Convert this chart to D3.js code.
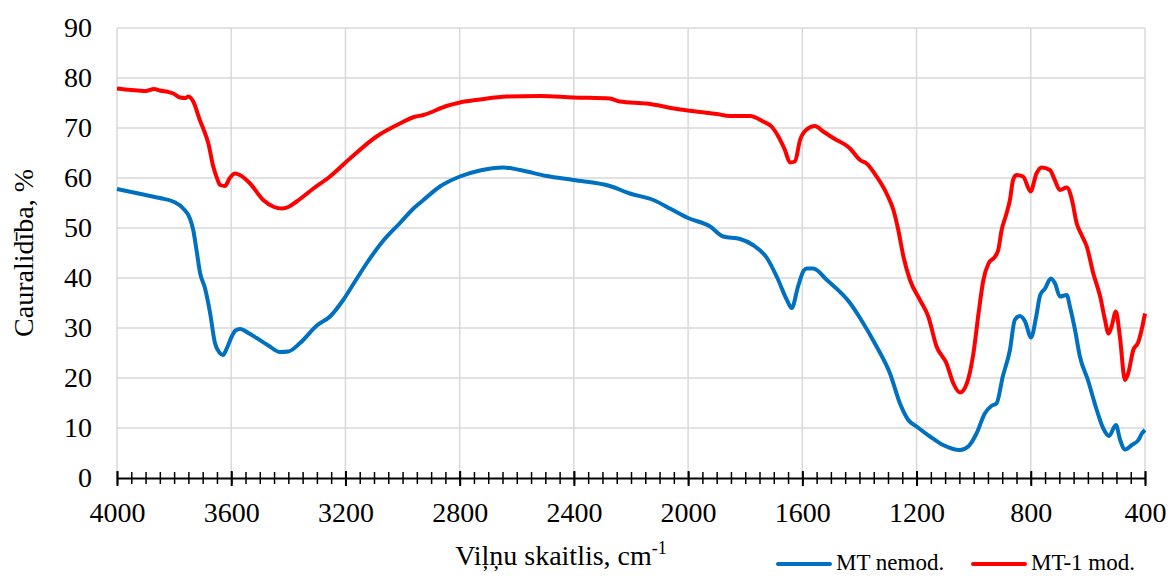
<!DOCTYPE html>
<html>
<head>
<meta charset="utf-8">
<script src="https://cdn.jsdelivr.net/npm/d3@7"></script>
<style>
  body { margin: 0; background: #fff; }
  svg text { font-family: "Liberation Serif", "Times New Roman", serif; fill: #000; }
</style>
</head>
<body>
<svg id="chart" width="1170" height="576"></svg>
<script>
// MT nemod. (blue)
const blueWave = [4000, 3950, 3900, 3850, 3800, 3770, 3744, 3733, 3720, 3709, 3692, 3674, 3657, 3640, 3629, 3615, 3599, 3585, 3569, 3540, 3511, 3470, 3429, 3400, 3359, 3300, 3254, 3208, 3170, 3125, 3070, 3009, 2960, 2927, 2869, 2799, 2729, 2647, 2589, 2495, 2402, 2274, 2204, 2122, 2060, 2000, 1923, 1877, 1818, 1773, 1724, 1689, 1654, 1637, 1615, 1595, 1584, 1562, 1514, 1433, 1398, 1340, 1293, 1258, 1229, 1200, 1153, 1107, 1048, 1019, 990, 961, 938, 920, 898, 873, 856, 838, 820, 799, 781, 767, 750, 730, 715, 698, 674, 663, 645, 628, 600, 569, 546, 526, 502, 487, 470, 446, 423, 411, 400];
const blueT = [57.8, 57.2, 56.6, 56.0, 55.2, 54.0, 51.8, 49.6, 45, 41, 38, 33, 27, 25, 24.6, 26, 28.2, 29.5, 29.8, 29, 28, 26.5, 25.2, 25.3, 27, 30.5, 32.3, 35.6, 39, 43, 47.3, 51, 54, 55.6, 58.3, 60.3, 61.5, 62.1, 61.6, 60.4, 59.6, 58.4, 56.9, 55.6, 53.8, 52, 50.3, 48.3, 47.8, 46.6, 44, 40.2, 35.6, 34, 38.3, 41.5, 41.9, 41.9, 39.6, 35, 32, 26.3, 20.9, 14.9, 11.6, 10.3, 8.3, 6.6, 5.6, 6.3, 8.9, 12.9, 14.4, 14.9, 20.3, 25.6, 31.6, 32.4, 31.3, 28.1, 32.3, 36.6, 37.9, 39.9, 38.9, 36.3, 36.6, 34.3, 29.6, 24.3, 19.6, 13.6, 9.9, 8.4, 10.6, 7.6, 5.7, 6.6, 7.6, 8.9, 9.6];

// MT-1 mod. (red)
const redWave = [4000, 3950, 3900, 3870, 3861, 3850, 3820, 3803, 3779, 3760, 3750, 3733, 3710, 3698, 3680, 3663, 3650, 3639, 3622, 3605, 3587, 3570, 3534, 3488, 3450, 3423, 3400, 3371, 3312, 3254, 3184, 3091, 3009, 2960, 2927, 2846, 2799, 2729, 2635, 2519, 2402, 2274, 2239, 2145, 2028, 1958, 1900, 1853, 1783, 1737, 1708, 1684, 1661, 1643, 1626, 1608, 1585, 1556, 1527, 1492, 1433, 1398, 1375, 1340, 1305, 1281, 1264, 1246, 1223, 1188, 1159, 1130, 1095, 1071, 1048, 1024, 1001, 983, 966, 948, 925, 914, 902, 885, 873, 862, 850, 827, 801, 780, 762, 733, 716, 698, 674, 657, 639, 622, 604, 581, 557, 540, 528, 517, 502, 488, 470, 459, 441, 424, 412, 400];
const redT = [77.9, 77.6, 77.4, 77.8, 77.7, 77.5, 77.2, 76.9, 76.1, 76.0, 76.3, 75.3, 71.6, 69.9, 66.9, 62.3, 60, 58.6, 58.4, 60, 60.9, 60.6, 58.9, 55.6, 54.2, 53.9, 54.2, 55.3, 57.9, 60.3, 63.9, 68.3, 70.9, 72.2, 72.6, 74.4, 75.1, 75.7, 76.3, 76.4, 76.1, 75.9, 75.3, 74.9, 73.7, 73.2, 72.8, 72.4, 72.4, 71.3, 70.3, 68.3, 65.6, 63.1, 63.3, 67.6, 69.7, 70.4, 69.3, 68, 65.9, 63.6, 62.9, 60.3, 56.9, 53.6, 49.6, 44.3, 39.6, 35.6, 32.3, 26.3, 22.9, 18.9, 17.1, 18.9, 24.9, 32.9, 39.6, 42.9, 44.3, 45.6, 49.6, 52.9, 55.6, 59.6, 60.6, 60.3, 57.3, 60.9, 62.1, 61.6, 59.6, 57.6, 58.1, 55.9, 50.9, 48.6, 46.3, 40.9, 36.3, 31.6, 28.9, 30.3, 33.3, 28.3, 19.6, 20.9, 25.6, 27.1, 29.6, 32.9];

const xTicks = [4000, 3600, 3200, 2800, 2400, 2000, 1600, 1200, 800, 400];
const yTicks = [0, 10, 20, 30, 40, 50, 60, 70, 80, 90];
const seriesNames = ["MT nemod.", "MT-1 mod."];
const seriesColors = ["#0070C0", "#FF0000"];

const serif = "'Liberation Serif', 'Times New Roman', serif";
const plotLeft = 117, plotRight = 1145, plotTop = 28, plotBottom = 478;
const svg = d3.select("#chart");

const x = d3.scaleLinear().domain([4000, 400]).range([plotLeft, plotRight]);
const y = d3.scaleLinear().domain([0, 90]).range([plotBottom, plotTop]);

// gridlines
svg.append("g")
  .selectAll("line")
  .data(yTicks.filter(d => d > 0))
  .enter().append("line")
  .attr("x1", plotLeft).attr("x2", plotRight)
  .attr("y1", d => y(d)).attr("y2", d => y(d))
  .attr("stroke", "#d9d9d9").attr("stroke-width", 1.5);

svg.append("g")
  .selectAll("line")
  .data(xTicks)
  .enter().append("line")
  .attr("x1", d => x(d)).attr("x2", d => x(d))
  .attr("y1", plotTop).attr("y2", plotBottom)
  .attr("stroke", "#d9d9d9").attr("stroke-width", 1.5);

// y axis labels
const yAxis = svg.append("g")
  .attr("transform", "translate(" + plotLeft + ",0)")
  .call(d3.axisLeft(y).tickValues(yTicks).tickSize(0).tickPadding(25));
yAxis.attr("font-family", serif);
yAxis.select(".domain").remove();
yAxis.selectAll("text").style("font-family", serif).style("font-size", "28px");

// x axis: minor ticks every 50, crossing the axis line
const minor = d3.range(4000, 399, -50);
const xMinor = svg.append("g")
  .attr("transform", "translate(0," + plotBottom + ")")
  .call(d3.axisBottom(x).tickValues(minor).tickSize(0).tickFormat(""));
xMinor.select(".domain").remove();
xMinor.selectAll(".tick line").attr("y1", -6).attr("y2", 6)
  .attr("stroke", "#000").attr("stroke-width", 1.5);

const xAxis = svg.append("g")
  .attr("transform", "translate(0," + plotBottom + ")")
  .call(d3.axisBottom(x).tickValues(xTicks).tickFormat(d3.format("d")).tickSizeOuter(0));
xAxis.attr("font-family", serif);
xAxis.select(".domain").attr("stroke", "#000").attr("stroke-width", 2);
xAxis.selectAll(".tick line").attr("y1", -7).attr("y2", 8)
  .attr("stroke", "#000").attr("stroke-width", 2);
xAxis.selectAll("text").attr("y", 24)
  .style("font-family", serif).style("font-size", "28px");

// curves
const line = d3.line()
  .x(d => x(d[0]))
  .y(d => y(d[1]))
  .curve(d3.curveMonotoneX);

const series = [d3.zip(blueWave, blueT), d3.zip(redWave, redT)];
svg.append("g")
  .selectAll("path")
  .data(series)
  .enter().append("path")
  .attr("d", line)
  .attr("fill", "none")
  .attr("stroke", (d, i) => seriesColors[i])
  .attr("stroke-width", 4)
  .attr("stroke-linejoin", "round");

// axis titles
const xt = svg.append("text")
  .attr("x", 561).attr("y", 565)
  .attr("text-anchor", "middle")
  .style("font-size", "28px");
xt.append("tspan").text("Viļņu skaitlis, cm");
xt.append("tspan").attr("dy", -11).style("font-size", "18px").text("-1");

svg.append("text")
  .attr("transform", "translate(33,253) rotate(-90)")
  .attr("text-anchor", "middle")
  .style("font-size", "28px")
  .text("Cauralidība, %");

// legend
const legendX = [778, 973];
const lg = svg.append("g").selectAll("g")
  .data(seriesNames)
  .enter().append("g")
  .attr("transform", (d, i) => "translate(" + legendX[i] + ",564)");
lg.append("line")
  .attr("x1", 0).attr("x2", 52)
  .attr("stroke", (d, i) => seriesColors[i])
  .attr("stroke-width", 4).attr("stroke-linecap", "round");
lg.append("text")
  .attr("x", 58).attr("y", 6)
  .style("font-size", "23px")
  .text(d => d);
</script>
</body>
</html>
